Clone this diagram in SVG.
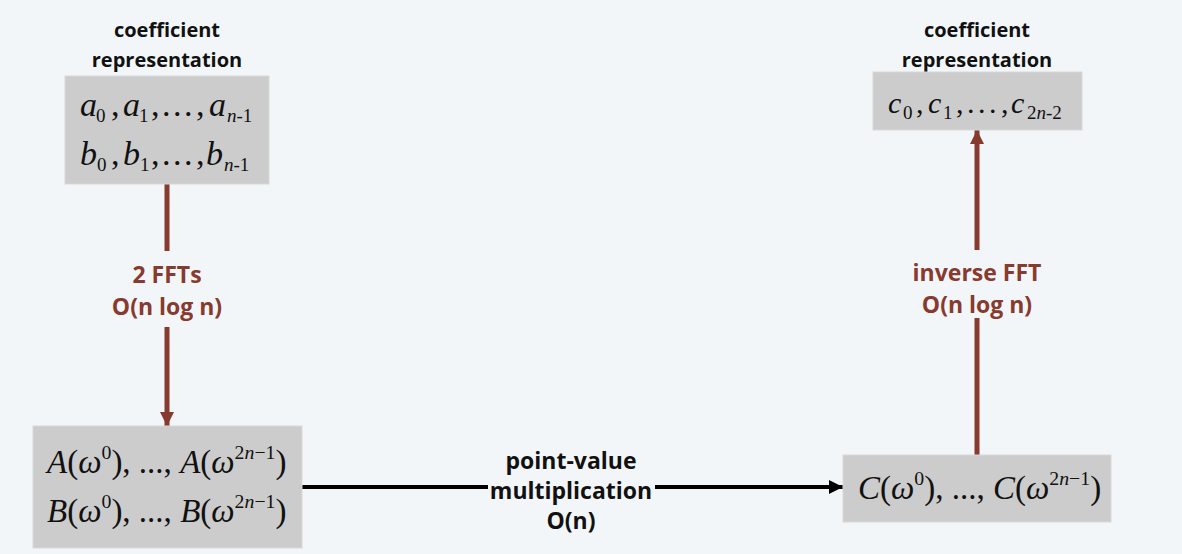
<svg xmlns="http://www.w3.org/2000/svg" width="1182" height="554" viewBox="0 0 1182 554">
<style>
.lbl{font-family:"Open Sans","DejaVu Sans",sans-serif;font-weight:bold;font-size:20px;text-anchor:middle;fill:#111}
.big{font-size:23px}
.red{fill:#873a2e}
.box{fill:#cccccc;stroke:#d8d8d8;stroke-width:1}
.m{font-family:"Liberation Serif","Times New Roman",serif;fill:#111}
.i{font-style:italic}
.sub{font-size:0.6em}
.s{font-size:19px}
</style>
<defs>
<marker id="ar" viewBox="0 0 14 14" refX="14" refY="7" markerWidth="14" markerHeight="14" markerUnits="userSpaceOnUse" orient="auto"><path d="M0,0 L14,7 L0,14 Z" fill="#873a2e"/></marker>
<marker id="ak" viewBox="0 0 14 14" refX="14" refY="7" markerWidth="14" markerHeight="14" markerUnits="userSpaceOnUse" orient="auto"><path d="M0,0 L14,7 L0,14 Z" fill="#000"/></marker>
</defs>
<rect width="1182" height="554" fill="#f3f6f9"/>
<g id="connectors">
<line x1="167" y1="184" x2="167" y2="251" stroke="#873a2e" stroke-width="5"/>
<line x1="167" y1="327" x2="167" y2="426" stroke="#873a2e" stroke-width="5" marker-end="url(#ar)"/>
<text class="lbl big red" x="167" y="283">2 FFTs</text>
<text class="lbl big red" x="167" y="315">O(n log n)</text>
<line x1="977" y1="455" x2="977" y2="318" stroke="#873a2e" stroke-width="5"/>
<line x1="977" y1="250" x2="977" y2="130" stroke="#873a2e" stroke-width="5" marker-end="url(#ar)"/>
<text class="lbl big red" x="977" y="281">inverse FFT</text>
<text class="lbl big red" x="977" y="313">O(n log n)</text>
<line x1="302" y1="487" x2="488" y2="487" stroke="#000" stroke-width="4"/>
<line x1="655" y1="487" x2="843" y2="487" stroke="#000" stroke-width="4" marker-end="url(#ak)"/>
<text class="lbl big" x="571" y="469">point-value</text>
<text class="lbl big" x="571" y="499">multiplication</text>
<text class="lbl big" x="571" y="529">O(n)</text>
</g>
<g id="coef-ab">
<text class="lbl" x="167" y="37">coefficient</text>
<text class="lbl" x="167" y="67">representation</text>
<rect class="box" x="65" y="76" width="204" height="108"/>
<text class="m" font-size="34"><tspan class="i" x="80" y="116">a</tspan><tspan class="s" x="96" y="122">0</tspan><tspan x="111" y="116">,</tspan><tspan class="i" x="123" y="116">a</tspan><tspan class="s" x="139" y="122">1</tspan><tspan x="151" y="116">,</tspan><tspan x="162" y="116">.</tspan><tspan x="173" y="116">.</tspan><tspan x="184" y="116">.</tspan><tspan x="196" y="116">,</tspan><tspan class="i" x="209" y="116">a</tspan><tspan class="s" x="227" y="122"><tspan class="i">n</tspan>-1</tspan></text>
<text class="m" font-size="34"><tspan class="i" x="80" y="165">b</tspan><tspan class="s" x="97" y="171">0</tspan><tspan x="111" y="165">,</tspan><tspan class="i" x="123" y="165">b</tspan><tspan class="s" x="140" y="171">1</tspan><tspan x="151" y="165">,</tspan><tspan x="162" y="165">.</tspan><tspan x="173" y="165">.</tspan><tspan x="184" y="165">.</tspan><tspan x="196" y="165">,</tspan><tspan class="i" x="206" y="165">b</tspan><tspan class="s" x="224" y="171"><tspan class="i">n</tspan>-1</tspan></text>
</g>
<g id="coef-c">
<text class="lbl" x="977" y="37">coefficient</text>
<text class="lbl" x="977" y="67">representation</text>
<rect class="box" x="873" y="72" width="209" height="58"/>
<text class="m" font-size="30"><tspan class="i" x="888" y="113">c</tspan><tspan class="s" x="903" y="119">0</tspan><tspan x="916" y="113">,</tspan><tspan class="i" x="928" y="113">c</tspan><tspan class="s" x="943" y="119">1</tspan><tspan x="956" y="113">,</tspan><tspan x="967" y="113">.</tspan><tspan x="978" y="113">.</tspan><tspan x="989" y="113">.</tspan><tspan x="1001" y="113">,</tspan><tspan class="i" x="1011" y="113">c</tspan><tspan class="s" x="1027" y="119">2<tspan class="i">n</tspan>-2</tspan></text>
</g>
<g id="pv-ab">
<rect class="box" x="33" y="426" width="269" height="122"/>
<text class="m" x="47" y="473" font-size="33"><tspan class="i">A</tspan>(<tspan class="i">ω</tspan><tspan class="sub" dy="-14">0</tspan><tspan dy="14">), ..., </tspan><tspan class="i">A</tspan>(<tspan class="i">ω</tspan><tspan class="sub" dy="-14">2<tspan class="i">n</tspan>−1</tspan><tspan dy="14">)</tspan></text>
<text class="m" x="47" y="522" font-size="33"><tspan class="i">B</tspan>(<tspan class="i">ω</tspan><tspan class="sub" dy="-14">0</tspan><tspan dy="14">), ..., </tspan><tspan class="i">B</tspan>(<tspan class="i">ω</tspan><tspan class="sub" dy="-14">2<tspan class="i">n</tspan>−1</tspan><tspan dy="14">)</tspan></text>
</g>
<g id="pv-c">
<rect class="box" x="843" y="455" width="268" height="67"/>
<text class="m" x="858" y="499" font-size="33"><tspan class="i">C</tspan>(<tspan class="i">ω</tspan><tspan class="sub" dy="-14">0</tspan><tspan dy="14">), ..., </tspan><tspan class="i">C</tspan>(<tspan class="i">ω</tspan><tspan class="sub" dy="-14">2<tspan class="i">n</tspan>−1</tspan><tspan dy="14">)</tspan></text>
</g>
</svg>
